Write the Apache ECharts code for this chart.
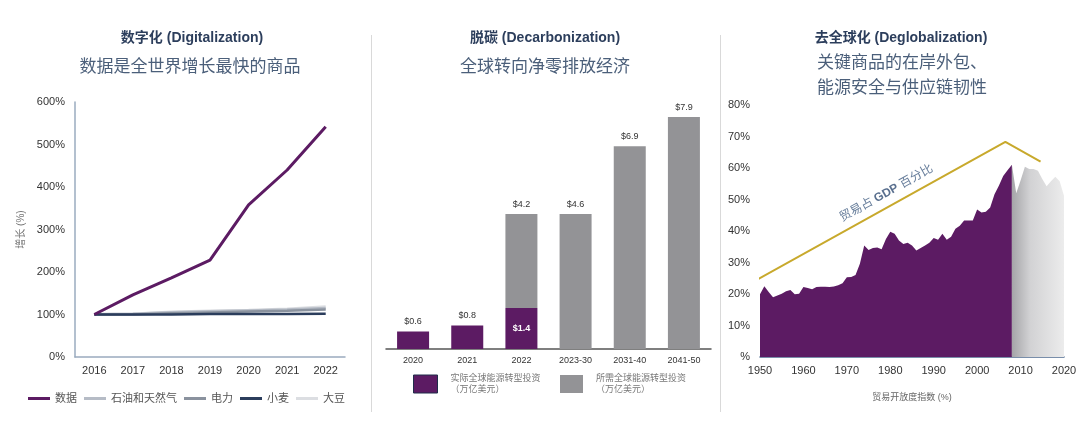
<!DOCTYPE html>
<html>
<head>
<meta charset="utf-8">
<script src="https://cdn.jsdelivr.net/npm/echarts@6/dist/echarts.min.js"></script>
<style>html,body{margin:0;padding:0;background:#fff;}#c{width:1080px;height:430px;}</style>
</head>
<body>
<div id="c"></div>
<script>
// ---------- Data ----------
// Panel 1: growth index (%)
var years1 = ['2016','2017','2018','2019','2020','2021','2022'];
var dataSeries = [100, 146, 186, 228, 358, 440, 542];
var oilGas     = [100, 101, 105, 107, 109, 111, 115];
var power      = [100, 100, 103, 105, 107, 109, 112];
var wheat      = [100, 100, 100, 101, 101, 101, 102];
var soybean    = [100, 101, 106, 108, 110, 113, 118];
var yTicks1 = [0, 100, 200, 300, 400, 500, 600];

// Panel 2: energy transition investment (US$ trillion)
var cats2 = ['2020','2021','2022','2023-30','2031-40','2041-50'];
var actualInv   = [0.6, 0.8, 1.4, null, null, null];
var requiredInv = [null, null, 3.2, 4.6, 6.9, 7.9];
var topLabels2  = ['$0.6','$0.8','$4.2','$4.6','$6.9','$7.9'];
var innerLabel2 = [null, null, '$1.4', null, null, null];

// Panel 3: trade as % of GDP
var tradeYearsA = [1950,1951,1952,1953,1954,1955,1956,1957,1958,1959,1960,1961,1962,1963,1964,1965,1966,1967,1968,1969,1970,1971,1972,1973,1974,1975,1976,1977,1978,1979,1980,1981,1982,1983,1984,1985,1986,1987,1988,1989,1990,1991,1992,1993,1994,1995,1996,1997,1998,1999,2000,2001,2002,2003,2004,2005,2006,2007,2008];
var tradeValsA  = [19.9,22.5,20.6,19.0,19.5,20.1,20.9,21.3,19.9,20.1,22.2,21.9,21.5,22.2,22.3,22.3,22.2,22.4,22.8,23.4,25.3,25.4,26.0,29.6,35.4,34.0,34.6,34.8,34.2,37.5,39.8,39.1,37.0,35.9,36.3,35.4,33.8,34.6,35.4,36.3,37.8,37.2,39.1,37.2,38.2,40.7,41.7,43.3,43.3,43.3,46.8,45.9,46.1,47.5,51.7,54.4,57.5,59.3,61.0];
var tradeYearsB = [2008,2009,2010,2011,2012,2013,2014,2015,2016,2017,2018,2019,2020];
var tradeValsB  = [61.0,52.0,56.0,60.4,59.7,59.7,59.1,56.5,54.2,55.8,57.2,55.8,51.2];
var trendYears  = [1948.4, 2006.5, 2014.6];
var trendVals   = [23.8, 68.3, 62.0];
var trendLabelPos = [1979.1, 52];

// ---------- Chart ----------
var FONT = '"Liberation Sans", Arial, "Noto Sans CJK SC", sans-serif';
var chart = echarts.init(document.getElementById('c'));

function pairs(xs, ys){ return xs.map(function(x,i){ return [x, ys[i]]; }); }

function titleText(x, y, text, size, weight, color, lh){
  return { type:'text', x:x, y:y, silent:true,
    style:{ text:text, fontSize:size, fontWeight:weight, fontFamily:FONT, fill:color,
      align:'center', verticalAlign:'middle', textAlign:'center', textVerticalAlign:'middle', lineHeight: lh || (size+7) } };
}

var actualData = actualInv.map(function(v,i){
  if (v == null) return '-';
  var inside = innerLabel2[i] != null;
  return { value: v, label: { show:true, position: inside ? 'inside' : 'top',
    color: inside ? '#ffffff' : '#333333', fontWeight: inside ? 'bold':'normal',
    formatter: inside ? innerLabel2[i] : topLabels2[i] } };
});
var requiredData = requiredInv.map(function(v,i){
  if (v == null) return '-';
  return { value: v, label: { show:true, position:'top', color:'#333333', formatter: topLabels2[i] } };
});

var option = {
  animation: false,
  backgroundColor: '#ffffff',
  textStyle: { fontFamily: FONT },
  graphic: [
    titleText(192, 38, '数字化 (Digitalization)', 14, 'bold', '#2c3e5c'),
    titleText(190, 67, '数据是全世界增长最快的商品', 17, 'normal', '#4b5f7a'),
    titleText(545, 38, '脱碳 (Decarbonization)', 14, 'bold', '#2c3e5c'),
    titleText(545, 67, '全球转向净零排放经济', 17, 'normal', '#4b5f7a'),
    titleText(901, 38, '去全球化 (Deglobalization)', 14, 'bold', '#2c3e5c'),
    titleText(902, 76, '关键商品的在岸外包、\n能源安全与供应链韧性', 17, 'normal', '#4b5f7a', 25),
    { type:'line', silent:true, shape:{x1:371.5,y1:35,x2:371.5,y2:412}, style:{stroke:'#d9d9d9', lineWidth:1} },
    { type:'line', silent:true, shape:{x1:720.5,y1:35,x2:720.5,y2:412}, style:{stroke:'#d9d9d9', lineWidth:1} }
  ],
  legend: [
    { left: 28, top: 393, padding:0, icon:'rect', itemWidth:22, itemHeight:3, itemGap:7,
      textStyle:{ fontSize:11, color:'#555555' },
      data:['数据','石油和天然气','电力','小麦','大豆'] },
    { left: 413, top: 373, padding:0, icon:'rect', itemWidth:24, itemHeight:18,
      itemStyle:{ borderColor:'#1f2d4a', borderWidth:1 },
      textStyle:{ fontSize:9, color:'#777777', lineHeight:11, padding:[0,0,0,8] },
      formatter: function(n){ return n + '\n（万亿美元）'; },
      data:['实际全球能源转型投资'] },
    { left: 560, top: 373, padding:0, icon:'rect', itemWidth:23, itemHeight:18,
      textStyle:{ fontSize:9, color:'#777777', lineHeight:11, padding:[0,0,0,8] },
      formatter: function(n){ return n + '\n（万亿美元）'; },
      data:['所需全球能源转型投资'] }
  ],
  grid: [
    { left: 75, right: 735, top: 102, bottom: 73 },
    { left: 386, right: 369, top: 114, bottom: 81 },
    { left: 760, right: 16, top: 105, bottom: 73 }
  ],
  xAxis: [
    { gridIndex:0, type:'category', data: years1, boundaryGap:true,
      axisLine:{ lineStyle:{ color:'#9aabbf', width:1.5 } }, axisTick:{show:false},
      axisLabel:{ fontSize:11, color:'#333333', margin:8 } },
    { gridIndex:1, type:'category', data: cats2,
      axisLine:{ lineStyle:{ color:'#555555', width:1.5 } }, axisTick:{show:false},
      axisLabel:{ fontSize:9, color:'#333333', margin:7 } },
    { gridIndex:2, type:'value', min:1950, max:2020, interval:10,
      splitLine:{show:false}, axisTick:{show:false},
      axisLine:{ lineStyle:{ color:'#4d6a8f', width:1.5 } },
      axisLabel:{ fontSize:11, color:'#333333', margin:8, formatter: function(v){ return String(v); } },
      name:'贸易开放度指数 (%)', nameLocation:'middle', nameGap:36,
      nameTextStyle:{ fontSize:9, color:'#666666' } }
  ],
  yAxis: [
    { gridIndex:0, type:'value', min:yTicks1[0], max:yTicks1[yTicks1.length-1], interval:100,
      splitLine:{show:false}, axisTick:{show:false},
      axisLine:{ show:true, lineStyle:{ color:'#9aabbf', width:1.5 } },
      axisLabel:{ fontSize:11, color:'#333333', margin:10, formatter:'{value}%' },
      name:'增长 (%)', nameLocation:'middle', nameGap:49, nameRotate:90,
      nameTextStyle:{ fontSize:10, color:'#777777' } },
    { gridIndex:1, type:'value', min:0, max:8, show:false, splitLine:{show:false} },
    { gridIndex:2, type:'value', min:0, max:80, interval:10,
      splitLine:{show:false}, axisTick:{show:false}, axisLine:{show:false},
      axisLabel:{ fontSize:11, color:'#333333', margin:10,
        formatter: function(v){ return v === 0 ? '%' : v + '%'; } } }
  ],
  series: [
    { name:'大豆', type:'line', xAxisIndex:0, yAxisIndex:0, data:soybean, symbol:'none',
      lineStyle:{ color:'#dcdee2', width:3 }, itemStyle:{color:'#dcdee2'} },
    { name:'石油和天然气', type:'line', xAxisIndex:0, yAxisIndex:0, data:oilGas, symbol:'none',
      lineStyle:{ color:'#b6bcc6', width:3 }, itemStyle:{color:'#b6bcc6'} },
    { name:'电力', type:'line', xAxisIndex:0, yAxisIndex:0, data:power, symbol:'none',
      lineStyle:{ color:'#8a929e', width:2.5 }, itemStyle:{color:'#8a929e'} },
    { name:'小麦', type:'line', xAxisIndex:0, yAxisIndex:0, data:wheat, symbol:'none',
      lineStyle:{ color:'#2b3d5c', width:2.5 }, itemStyle:{color:'#2b3d5c'} },
    { name:'数据', type:'line', xAxisIndex:0, yAxisIndex:0, data:dataSeries, symbol:'none',
      lineStyle:{ color:'#5c1b63', width:3 }, itemStyle:{color:'#5c1b63'} },

    { name:'实际全球能源转型投资', type:'bar', xAxisIndex:1, yAxisIndex:1, stack:'inv',
      barWidth:32, data: actualData,
      itemStyle:{ color:'#5c1b63' }, label:{ fontSize:9 } },
    { name:'所需全球能源转型投资', type:'bar', xAxisIndex:1, yAxisIndex:1, stack:'inv',
      barWidth:32, data: requiredData,
      itemStyle:{ color:'#939396' }, label:{ fontSize:9 } },

    { name:'trade-a', type:'line', xAxisIndex:2, yAxisIndex:2, data: pairs(tradeYearsA, tradeValsA),
      symbol:'none', lineStyle:{ width:0 }, itemStyle:{color:'#5c1b63'},
      areaStyle:{ color:'#5c1b63', opacity:1 } },
    { name:'trade-b', type:'line', xAxisIndex:2, yAxisIndex:2, data: pairs(tradeYearsB, tradeValsB),
      symbol:'none', lineStyle:{ width:0 },
      areaStyle:{ opacity:1, color: new echarts.graphic.LinearGradient(0,0,1,0,[
        {offset:0, color:'#a5a5a8'}, {offset:0.35, color:'#d2d2d4'}, {offset:1, color:'#ececec'}]) } },
    { name:'trend', type:'line', xAxisIndex:2, yAxisIndex:2, data: pairs(trendYears, trendVals),
      symbol:'none', clip:false, lineStyle:{ color:'#c8a92c', width:2 } },
    { name:'trend-label', type:'scatter', xAxisIndex:2, yAxisIndex:2, data:[trendLabelPos],
      symbol:'circle', symbolSize:2, itemStyle:{ color:'rgba(0,0,0,0)' }, silent:true,
      label:{ show:true, position:'inside', rotate:29,
        formatter:'{a|贸易占 }{b|GDP}{a| 百分比}',
        rich:{ a:{ fontSize:12, color:'#3d5a80' }, b:{ fontSize:12, fontWeight:'bold', color:'#2f4b72' } } } }
  ]
};
chart.setOption(option);
</script>
</body>
</html>
